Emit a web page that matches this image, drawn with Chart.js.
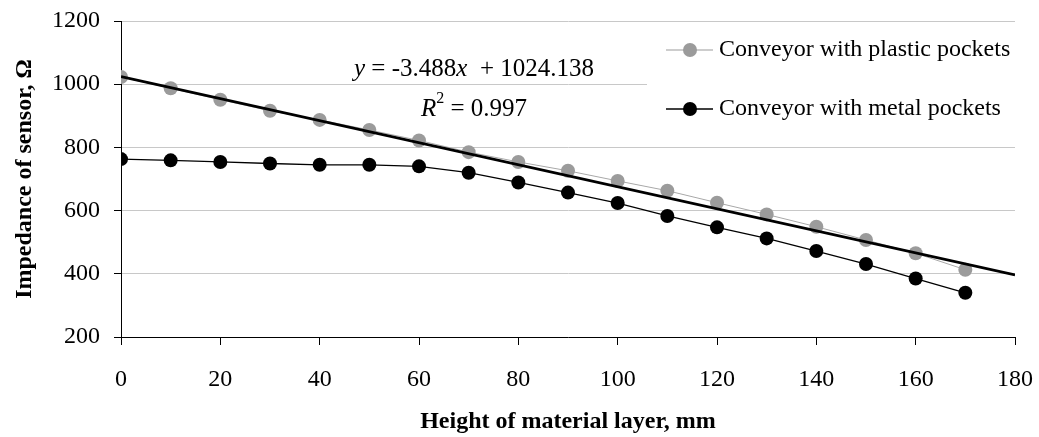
<!DOCTYPE html>
<html><head><meta charset="utf-8">
<script src="https://cdn.jsdelivr.net/npm/chart.js@4/dist/chart.umd.min.js"></script>
<style>html,body{margin:0;padding:0;background:#fff}#wrap{width:1039px;height:437px;position:relative}</style>
</head><body><div id="wrap"><canvas id="c"></canvas></div>
<script>
const heights = [0,10,20,30,40,50,60,70,80,90,100,110,120,130,140,150,160,170];
const plasticImpedance = [1023,987,951,916,887,855,822,785,754,726,694,663,625,588,549,507,465,413];
const metalImpedance = [763,759,754,749,745,745,740,720,689,657,624,583,547,512,472,431,385,340];
const trendSlope = -3.488;
const trendIntercept = 1024.138;
const trendR2 = 0.997;
const trendRange = [0, 180];
const seriesNames = ['Conveyor with plastic pockets', 'Conveyor with metal pockets'];
const xTitle = 'Height of material layer, mm';
const yTitle = 'Impedance of sensor, Ω';

const FF = '"Liberation Serif", "Times New Roman", serif';
const GRAY = '#9b9b9b';

const toPts = (xs, ys) => xs.map((x, i) => ({x, y: ys[i]}));
const trendPts = trendRange.map(x => ({x, y: trendSlope * x + trendIntercept}));

function drawRuns(ctx, runs, cx, cy) {
  let total = 0;
  runs.forEach(r => { ctx.font = r.font; r.w = ctx.measureText(r.t).width; total += r.w; });
  let x = cx - total / 2;
  ctx.textBaseline = 'middle';
  ctx.textAlign = 'left';
  runs.forEach(r => { ctx.font = r.font; ctx.fillText(r.t, x, cy + (r.dy || 0)); x += r.w; });
}

const overlay = {
  id: 'overlay',
  afterDraw(chart) {
    const ctx = chart.ctx;
    ctx.save();
    ctx.fillStyle = '#fff';
    ctx.fillRect(647, 28, 385, 100);
    const items = [
      {name: seriesNames[0], color: GRAY, y: 50, lw: 1},
      {name: seriesNames[1], color: '#000', y: 109, lw: 1.3}
    ];
    items.forEach(it => {
      ctx.strokeStyle = it.color; ctx.lineWidth = it.lw;
      ctx.beginPath(); ctx.moveTo(666, it.y); ctx.lineTo(713, it.y); ctx.stroke();
      ctx.fillStyle = it.color;
      ctx.beginPath(); ctx.arc(690, it.y, 7, 0, Math.PI * 2); ctx.fill();
      ctx.fillStyle = '#000';
      ctx.font = '24px ' + FF; ctx.textBaseline = 'middle'; ctx.textAlign = 'left';
      ctx.fillText(it.name, 719, it.y);
    });
    ctx.fillStyle = '#000';
    const n = '25px ' + FF, it = 'italic 25px ' + FF;
    drawRuns(ctx, [
      {t: 'y', font: it}, {t: ' = ' + trendSlope.toFixed(3), font: n}, {t: 'x', font: it},
      {t: '  + ' + trendIntercept.toFixed(3), font: n}
    ], 474, 69);
    drawRuns(ctx, [
      {t: 'R', font: it}, {t: '2', font: '16px ' + FF, dy: -10}, {t: ' = ' + trendR2.toFixed(3), font: n}
    ], 474, 109);
    ctx.restore();
  }
};

new Chart(document.getElementById('c'), {
  type: 'scatter',
  data: {
    datasets: [
      {label: 'trend', data: trendPts, showLine: true, borderColor: '#000', borderWidth: 2.8,
       pointRadius: 0, order: 0},
      {label: seriesNames[1], data: toPts(heights, metalImpedance), showLine: true,
       borderColor: '#000', borderWidth: 1.3, backgroundColor: '#000', pointBorderColor: '#000',
       pointRadius: 7, pointBorderWidth: 0, order: 1},
      {label: seriesNames[0], data: toPts(heights, plasticImpedance), showLine: true,
       borderColor: '#a8a8a8', borderWidth: 1, backgroundColor: GRAY, pointBorderColor: GRAY,
       pointRadius: 7, pointBorderWidth: 0, order: 2}
    ]
  },
  options: {
    responsive: true, maintainAspectRatio: false, animation: false,
    layout: {padding: {top: 21, right: 24, left: 0, bottom: 0}},
    plugins: {legend: {display: false}, tooltip: {enabled: false}},
    scales: {
      x: {
        type: 'linear', min: 0, max: 180,
        ticks: {stepSize: 20, color: '#000', font: {family: FF, size: 24}, padding: 20, maxRotation: 0,
                callback: v => String(v)},
        grid: {drawOnChartArea: false, color: '#000', tickColor: '#000', tickLength: 8, lineWidth: 1},
        border: {color: '#000', width: 1},
        title: {display: true, text: xTitle, color: '#000', font: {family: FF, size: 24, weight: 'bold'}, padding: {top: 0, bottom: 1}},
        afterFit(s) { s.height = 100; s.paddingLeft = 0; s.paddingRight = 0; }
      },
      y: {
        min: 200, max: 1200,
        ticks: {stepSize: 200, color: '#000', font: {family: FF, size: 24}, padding: 14,
                callback: v => String(v)},
        grid: {color: '#c8c8c8', tickColor: '#000', tickLength: 7, lineWidth: 1},
        border: {color: '#000', width: 1},
        title: {display: true, text: yTitle, color: '#000', font: {family: FF, size: 24, weight: 'bold'}, padding: {top: 10, bottom: 0}},
        afterFit(s) { s.width = 121; s.paddingTop = 0; s.paddingBottom = 0; }
      }
    }
  },
  plugins: [overlay]
});
</script>
</body></html>
